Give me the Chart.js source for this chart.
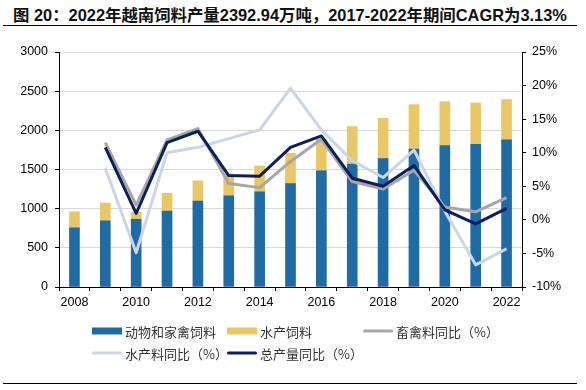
<!DOCTYPE html>
<html>
<head>
<meta charset="utf-8">
<script src="https://cdn.jsdelivr.net/npm/chart.js@4.4.1/dist/chart.umd.min.js"></script>
<style>
    body { margin: 0; background: #fff; }
    #wrap { position: relative; width: 586px; height: 390px; overflow: hidden; }
    #mycanvas { position: absolute; left: 0; top: 0; }
    .title {
        position: absolute; left: 13px; top: 2px; white-space: nowrap;
        font-family: "Liberation Sans", "Noto Sans CJK SC", sans-serif;
        font-weight: bold; font-size: 16.4px; color: #111;
    }
    .rule { position: absolute; left: 3px; width: 574px; height: 1px; background: #000; }
    .legend-item {
        position: absolute; display: flex; align-items: center; white-space: nowrap;
        font-family: "Noto Sans CJK SC", sans-serif; font-size: 13px; color: #333;
        transform: translateY(-50%);
    }
    .legend-item .sym { width: 30px; margin-right: 3px; }
</style>
</head>
<body>
<div id="wrap">
    <div class="title">图 20：2022年越南饲料产量2392.94万吨，2017-2022年期间CAGR为3.13%</div>
    <div class="rule" style="top:25px"></div>
    <canvas id="mycanvas" width="586" height="390"></canvas>
    <div class="rule" style="top:383px"></div>
</div>
<script>
const years = ['2008', '2009', '2010', '2011', '2012', '2013', '2014', '2015', '2016', '2017', '2018', '2019', '2020', '2021', '2022'];
// 万吨
const livestock_list = [755, 845, 865, 969, 1097, 1165, 1216, 1319, 1483, 1568, 1638, 1760, 1805, 1821, 1878];
const aqua_list = [205, 226, 90, 228, 258, 280, 329, 390, 402, 481, 515, 568, 561, 529, 515];
// %
const livestock_yoy = [null, 11.5, 2.2, 11.9, 13.6, 5.4, 4.8, 8.7, 12.0, 5.7, 4.6, 7.4, 1.9, 1.2, 3.3];
const aqua_yoy = [null, 7.7, -4.9, 10.0, 10.8, 12.1, 13.4, 19.6, 13.4, 8.8, 6.3, 10.4, 1.3, -6.7, -4.3];
const total_yoy = [null, 10.8, 0.95, 11.5, 13.2, 6.6, 6.5, 10.8, 12.5, 6.2, 5.0, 8.1, 1.5, -0.6, 1.7];

const tickFont = { family: '"Liberation Sans", Arial, sans-serif', size: 12.5 };

const lineStyle = {
    type: 'line',
    yAxisID: 'y1',
    borderWidth: 3,
    pointRadius: 0,
    tension: 0,
    borderJoinStyle: 'round',
    fill: false,
};

const mycanvas = document.getElementById('mycanvas').getContext('2d');
const chart = new Chart(mycanvas, {
    type: 'bar',
    data: {
        labels: years,
        datasets: [
            {
                label: '动物和家禽饲料',
                data: livestock_list,
                backgroundColor: '#1F6BA5',
                borderWidth: 0,
                barThickness: 10,
                order: 4,
            },
            {
                label: '水产饲料',
                data: aqua_list,
                backgroundColor: '#E8C764',
                borderWidth: 0,
                barThickness: 10,
                order: 4,
            },
            Object.assign({}, lineStyle, {
                label: '畜禽料同比（%）',
                data: livestock_yoy,
                borderColor: '#A6A6A6',
                backgroundColor: '#A6A6A6',
                order: 3,
            }),
            Object.assign({}, lineStyle, {
                label: '水产料同比（%）',
                data: aqua_yoy,
                borderColor: '#CAD5E6',
                backgroundColor: '#CAD5E6',
                order: 2,
            }),
            Object.assign({}, lineStyle, {
                label: '总产量同比（%）',
                data: total_yoy,
                borderColor: '#0B1F5E',
                backgroundColor: '#0B1F5E',
                order: 1,
            }),
        ]
    },
    options: {
        responsive: false,
        animation: false,
        events: [],
        layout: { padding: { left: 0, right: 0, top: 52, bottom: 0 } },
        plugins: {
            legend: { display: false },
            tooltip: { enabled: false },
        },
        scales: {
            x: {
                stacked: true,
                afterFit: (s) => { s.height = 103; },
                grid: {
                    offset: true,
                    drawOnChartArea: false,
                    tickLength: 4,
                    tickColor: '#000',
                },
                border: { color: '#000', width: 1 },
                ticks: {
                    autoSkip: false,
                    maxRotation: 0,
                    padding: 4,
                    color: '#000',
                    font: tickFont,
                    callback: function (v, i) { return i % 2 === 0 ? years[i] : ''; },
                }
            },
            y: {
                stacked: true,
                position: 'left',
                min: 0,
                max: 3000,
                afterFit: (s) => { s.width = 59; },
                grid: {
                    color: '#D9D9D9',
                    tickColor: '#000',
                    tickLength: 4,
                },
                border: { color: '#000', width: 1 },
                ticks: {
                    stepSize: 500,
                    padding: 7,
                    color: '#000',
                    font: tickFont,
                    callback: (v) => String(v),
                }
            },
            y1: {
                position: 'right',
                min: -10,
                max: 25,
                afterFit: (s) => { s.width = 64; },
                grid: {
                    drawOnChartArea: false,
                    tickColor: '#000',
                    tickLength: 4,
                },
                border: { color: '#000', width: 1 },
                ticks: {
                    stepSize: 5,
                    padding: 6,
                    color: '#000',
                    font: tickFont,
                    callback: (v) => v + '%',
                }
            }
        },
    },
});

// legend drawn as html so the items sit in the same grid as the original
const legendPos = [[92, 331], [227, 331], [363, 331], [92, 353], [227, 353]];
const wrap = document.getElementById('wrap');
chart.data.datasets.forEach((ds, i) => {
    const item = document.createElement('div');
    item.className = 'legend-item';
    item.style.left = legendPos[i][0] + 'px';
    item.style.top = legendPos[i][1] + 'px';
    const sym = document.createElement('span');
    sym.className = 'sym';
    if (ds.type === 'line') {
        sym.style.height = '3px';
        sym.style.borderRadius = '2px';
    } else {
        sym.style.height = '7px';
    }
    sym.style.background = ds.backgroundColor;
    const txt = document.createElement('span');
    txt.textContent = ds.label;
    item.appendChild(sym);
    item.appendChild(txt);
    wrap.appendChild(item);
});
</script>
</body>
</html>
